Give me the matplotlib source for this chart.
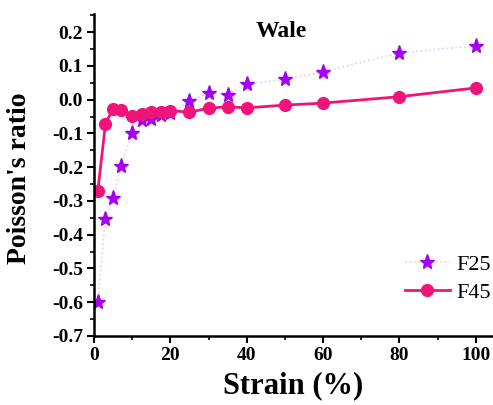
import matplotlib
matplotlib.use("Agg")
import matplotlib.pyplot as plt
from matplotlib.ticker import MultipleLocator

plt.rcParams['font.family'] = ['Liberation Serif', 'DejaVu Serif']

strain = [1, 3, 5, 7, 10, 12.5, 15, 17.5, 20, 25, 30, 35, 40, 50, 60, 80, 100]
f25 = [-0.60, -0.352, -0.29, -0.197, -0.099, -0.06, -0.058, -0.045, -0.04,
       -0.005, 0.021, 0.014, 0.047, 0.06, 0.083, 0.139, 0.16]
f45 = [-0.271, -0.071, -0.027, -0.029, -0.048, -0.042, -0.037, -0.037, -0.032,
       -0.037, -0.025, -0.021, -0.024, -0.016, -0.010, 0.009, 0.035]

fig = plt.figure(figsize=(4.93, 4.05), dpi=100)
ax = fig.add_axes([94/493, 1 - 336/405, 1 - 94/493, (336 - 14)/405])

ax.plot(strain, f25, linestyle=':', color='#f0c8f0', lw=1.2,
        marker='*', ms=11, mfc='#a400f0', mec='#a400f0', label='F25')
ax.plot(strain, f45, linestyle='-', color='#f0147a', lw=2,
        marker='o', ms=8.5, mfc='#f0147a', mec='#f0147a', label='F45')

ax.set_xlim(0, 104.5)
ax.set_ylim(-0.7, 0.254)
ax.xaxis.set_major_locator(MultipleLocator(20))
ax.xaxis.set_minor_locator(MultipleLocator(10))
ax.yaxis.set_minor_locator(MultipleLocator(0.05))
ax.spines['top'].set_visible(False)
ax.spines['right'].set_visible(False)
ax.spines['left'].set_linewidth(1.8)
ax.spines['bottom'].set_linewidth(1.8)
ax.tick_params(which='major', direction='out', length=5, width=1.5,
               labelsize=14, pad=3)
ax.tick_params(which='minor', direction='out', length=3, width=1.2)
yt = [-0.7, -0.6, -0.5, -0.4, -0.3, -0.2, -0.1, 0.0, 0.1, 0.2]
ax.set_yticks(yt)
ax.set_yticklabels(['%.1f' % v for v in yt])
for lab in ax.get_xticklabels() + ax.get_yticklabels():
    lab.set_fontweight('bold')

ax.set_xlabel('Strain (%)', fontsize=22, fontweight='bold')
ax.set_ylabel("Poisson's ratio", fontsize=20, fontweight='bold')
ax.xaxis.set_label_coords(0.499, -0.11)
ax.yaxis.set_label_coords(-0.155, 0.49)
ax.text(0.469, 0.947, 'Wale', transform=ax.transAxes, fontsize=17,
        fontweight='bold', ha='center', va='center')

ax.legend(loc='lower right', frameon=False, fontsize=16,
          bbox_to_anchor=(1.045, 0.04), handlelength=2.0, labelspacing=0.35,
          handletextpad=0.3)

fig.savefig('out.png', dpi=100)
